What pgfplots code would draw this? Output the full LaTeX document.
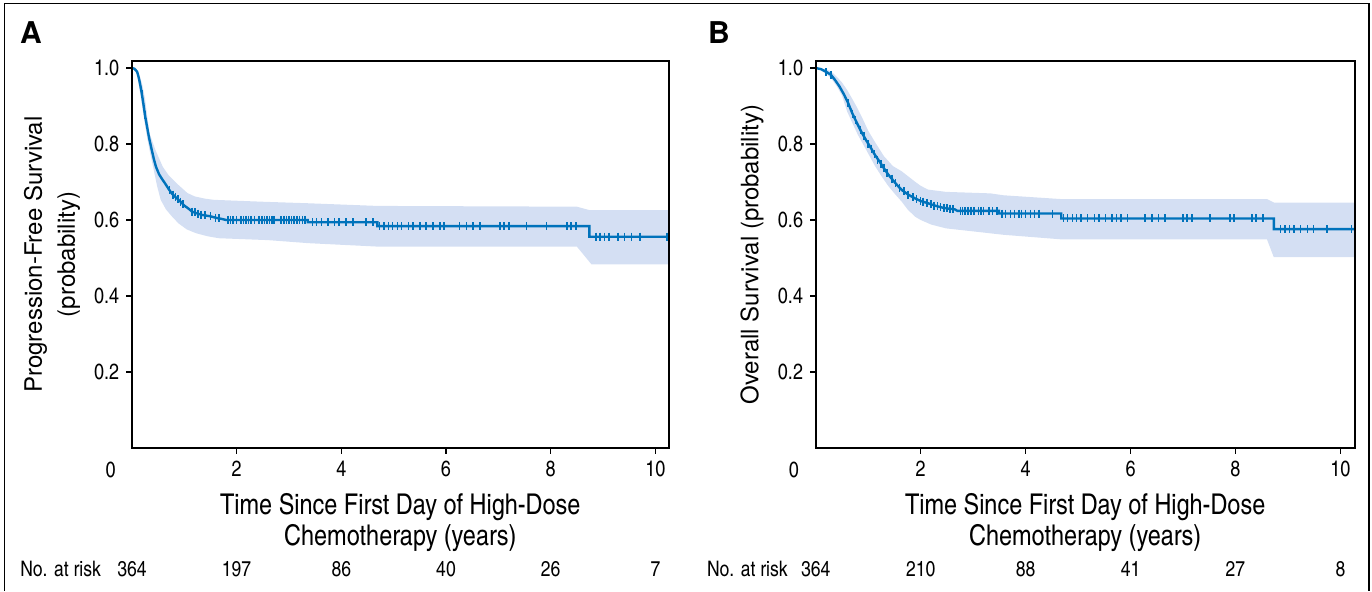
\documentclass[border=0pt]{standalone}
\usepackage{fontspec}
\setmainfont{texgyreheroscn-regular.otf}[BoldFont=texgyreheroscn-bold.otf]
\newfontfamily\widesans{texgyreheros-regular.otf}[BoldFont=texgyreheros-bold.otf]
\usepackage{pgfplots}
\pgfplotsset{compat=1.18}
\definecolor{kmblue}{RGB}{0,114,187}
\definecolor{kmband}{RGB}{212,223,243}

\tikzset{risk/.style={font=\fontsize{10.7}{12}\selectfont}}
\pgfplotsset{
  km/.style={
    scale only axis, height=193.5pt,
    xmin=0, ymin=0, ymax=1.0184,
    axis on top, clip=false,
    axis line style={line width=1pt},
    tick align=outside, xtick pos=bottom, ytick pos=left,
    major tick length=2.8pt,
    tick style={black, line width=0.7pt},
    xtick={2,4,6,8,10}, ytick={0.2,0.4,0.6,0.8,1.0},
    /pgf/number format/assume math mode=true,
    yticklabel style={/pgf/number format/fixed, /pgf/number format/fixed zerofill, /pgf/number format/precision=1},
    ticklabel style={font=\fontsize{11}{13}\selectfont},
    xlabel style={align=center, font=\fontsize{14.3}{15.6}\selectfont, at={(axis description cs:0.5,-0.1922)}, anchor=center},
    ylabel style={align=center, font=\widesans\fontsize{12}{16.5}\selectfont, anchor=center},
  },
  kmline/.style={kmblue, line width=1.2pt},
  kmcens/.style={kmblue, only marks, mark=|, mark size=2pt, mark options={line width=0.8pt}},
}

\begin{document}
\begin{tikzpicture}
\path (0pt,0pt) rectangle (686pt,295.5pt);
\draw[line width=0.7pt] (2.25pt,0pt) -- (2.25pt,293.85pt) -- (684.5pt,293.85pt) -- (684.5pt,0pt);

\node[font=\widesans\bfseries\fontsize{15}{15}\selectfont] at (15.5pt,279pt) {A};
\node[font=\widesans\bfseries\fontsize{15}{15}\selectfont] at (359.5pt,279pt) {B};

% ---------------- A: progression-free survival
\begin{axis}[km, at={(65.95pt,71.5pt)}, anchor=south west, width=268.4pt, xmax=10.254,
  xlabel={Time Since First Day of High-Dose\\Chemotherapy (years)},
  ylabel={Progression-Free Survival\\(probability)},
  ylabel style={at={(axis description cs:-0.1489,0.5)}}]

% confidence band: upper edge left to right, then lower edge right to left
\addplot[fill=kmband, draw=none, forget plot] coordinates {
 (0,1.0) (0.1,0.995) (0.16,0.975) (0.2,0.955) (0.25,0.92) (0.3,0.865) (0.34,0.827)
 (0.45,0.784) (0.59,0.74) (0.7,0.718) (0.85,0.697) (1.06,0.671) (1.2,0.662)
 (1.4,0.656) (1.57,0.653) (2.5,0.648) (3.37,0.644) (4.69,0.637) (8.5,0.635)
 (8.74,0.626) (10.254,0.626)
 (10.254,0.483) (8.78,0.483) (8.5,0.53) (4.69,0.53) (3.37,0.539) (2.6,0.547)
 (1.66,0.552) (1.45,0.557) (1.23,0.565) (1.05,0.575) (0.89,0.591) (0.76,0.61)
 (0.65,0.628) (0.55,0.653) (0.48,0.69) (0.405,0.74) (0.35,0.775) (0.3,0.81)
 (0.25,0.85) (0.19,0.905) (0.15,0.94) (0.1,0.985) (0,1.0)
};

\addplot[kmline] coordinates {
 (0,1.0) (0.05,0.998) (0.1,0.99) (0.13,0.975) (0.16,0.955) (0.19,0.932) (0.22,0.905)
 (0.25,0.876) (0.29,0.845) (0.33,0.815) (0.38,0.784) (0.42,0.76) (0.46,0.74)
 (0.52,0.72) (0.58,0.707) (0.63,0.697) (0.7,0.682) (0.76,0.67) (0.85,0.658)
 (0.93,0.648) (1.0,0.638) (1.08,0.63) (1.15,0.622) (1.25,0.617) (1.35,0.613)
 (1.49,0.61) (1.6,0.606) (1.74,0.602) (1.8,0.6) (3.36,0.6) (3.36,0.594)
 (4.69,0.594) (4.69,0.584) (8.74,0.584) (8.74,0.556) (10.25,0.556)
};
\addplot[kmcens] coordinates {
 (0.19,0.932) (0.25,0.876)
 (0.72,0.678) (0.78,0.667) (0.83,0.661) (0.88,0.654) (0.93,0.648) (0.98,0.641)
 (1.15,0.622) (1.2,0.62) (1.26,0.617) (1.32,0.614) (1.4,0.612) (1.5,0.61) (1.6,0.606) (1.66,0.604)
 (1.83,0.6) (1.88,0.6) (1.93,0.6) (2.0,0.6) (2.08,0.6) (2.13,0.6) (2.18,0.6) (2.23,0.6)
 (2.28,0.6) (2.34,0.6) (2.43,0.6) (2.48,0.6) (2.53,0.6) (2.58,0.6) (2.63,0.6) (2.68,0.6)
 (2.72,0.6) (2.85,0.6) (2.9,0.6) (2.95,0.6) (3.0,0.6) (3.05,0.6) (3.1,0.6) (3.15,0.6)
 (3.2,0.6) (3.26,0.6) (3.31,0.6)
 (3.45,0.594) (3.53,0.594) (3.62,0.594) (3.75,0.594) (3.87,0.594) (3.96,0.594)
 (4.09,0.594) (4.22,0.594) (4.47,0.594) (4.6,0.594)
 (4.73,0.584) (4.81,0.584) (4.9,0.584) (4.98,0.584) (5.07,0.584) (5.15,0.584)
 (5.28,0.584) (5.37,0.584) (5.5,0.584) (5.62,0.584) (5.75,0.584) (5.88,0.584)
 (5.96,0.584) (6.26,0.584) (6.39,0.584) (6.52,0.584) (6.65,0.584) (7.03,0.584)
 (7.11,0.584) (7.2,0.584) (7.54,0.584) (7.92,0.584) (8.31,0.584) (8.39,0.584) (8.48,0.584)
 (8.86,0.556) (8.94,0.556) (9.03,0.556) (9.11,0.556) (9.29,0.556) (9.41,0.556)
 (9.54,0.556) (9.71,0.556) (10.22,0.556)
};

\node[font=\fontsize{11}{13}\selectfont] at (axis cs:-0.405,-0.058) {0};
\node[risk, anchor=east] at (axis cs:-0.457,-0.319) {No. at risk};
\node[risk] at (axis cs:0,-0.319) {364};
\node[risk] at (axis cs:2,-0.319) {197};
\node[risk] at (axis cs:4,-0.319) {86};
\node[risk] at (axis cs:6,-0.319) {40};
\node[risk] at (axis cs:8,-0.319) {26};
\node[risk] at (axis cs:10,-0.319) {7};
\end{axis}

% ---------------- B: overall survival
\begin{axis}[km, at={(407.85pt,71.5pt)}, anchor=south west, width=269.45pt, xmax=10.27,
  xlabel={Time Since First Day of High-Dose\\Chemotherapy (years)},
  ylabel={Overall Survival (probability)},
  ylabel style={at={(axis description cs:-0.118,0.5)}}]

\addplot[fill=kmband, draw=none, forget plot] coordinates {
 (0,1.0) (0.2,0.997) (0.3,0.99) (0.4,0.977) (0.5,0.962) (0.6,0.942) (0.7,0.918)
 (0.8,0.893) (0.9,0.865) (1.0,0.835) (1.13,0.805) (1.3,0.768) (1.47,0.742)
 (1.64,0.728) (1.77,0.714) (1.9,0.7) (2.0,0.69) (2.14,0.68) (2.48,0.674)
 (3.33,0.67) (3.58,0.665) (4.68,0.655) (8.6,0.655) (8.73,0.646) (10.27,0.646)
 (10.27,0.502) (8.73,0.502) (8.6,0.549) (4.68,0.549) (3.58,0.561) (3.0,0.57)
 (2.48,0.578) (2.2,0.588) (2.0,0.6) (1.89,0.609) (1.75,0.628) (1.64,0.648)
 (1.5,0.67) (1.38,0.69) (1.25,0.716) (1.13,0.742) (1.0,0.775) (0.9,0.8)
 (0.8,0.825) (0.7,0.855) (0.6,0.885) (0.5,0.928) (0.4,0.952) (0.3,0.972)
 (0.2,0.985) (0,1.0)
};

\addplot[kmline] coordinates {
 (0,1.0) (0.1,0.997) (0.2,0.99) (0.29,0.982) (0.37,0.968) (0.455,0.951) (0.54,0.93)
 (0.62,0.907) (0.7,0.88) (0.79,0.854) (0.87,0.832) (0.96,0.81) (1.05,0.79)
 (1.13,0.771) (1.22,0.753) (1.3,0.736) (1.38,0.72) (1.47,0.705) (1.55,0.692)
 (1.64,0.679) (1.76,0.667) (1.89,0.657) (2.0,0.65) (2.14,0.644) (2.27,0.638)
 (2.4,0.633) (2.52,0.63) (2.65,0.628) (2.7,0.624) (3.49,0.624) (3.49,0.617)
 (4.68,0.617) (4.68,0.604) (8.73,0.604) (8.73,0.576) (10.27,0.576)
};
\addplot[kmcens] coordinates {
 (0.2,0.99) (0.29,0.982)
 (0.62,0.907) (0.7,0.88) (0.76,0.863) (0.85,0.838) (0.92,0.82) (1.0,0.799)
 (1.06,0.788) (1.12,0.773) (1.18,0.759) (1.25,0.747) (1.3,0.736) (1.36,0.724)
 (1.45,0.709) (1.52,0.697) (1.6,0.685) (1.68,0.675) (1.76,0.667) (1.85,0.66)
 (1.92,0.655) (2.0,0.65) (2.05,0.648) (2.12,0.645) (2.2,0.641) (2.26,0.638)
 (2.32,0.636) (2.38,0.634) (2.45,0.632) (2.5,0.631) (2.56,0.63) (2.62,0.629)
 (2.76,0.624) (2.8,0.624) (2.85,0.624) (2.9,0.624) (2.96,0.624) (3.02,0.624)
 (3.1,0.624) (3.15,0.624) (3.2,0.624) (3.3,0.624) (3.37,0.624) (3.45,0.624)
 (3.55,0.617) (3.62,0.617) (3.71,0.617) (3.79,0.617) (3.87,0.617) (3.92,0.617)
 (4.0,0.617) (4.09,0.617) (4.17,0.617) (4.26,0.617) (4.51,0.617)
 (4.72,0.604) (4.8,0.604) (4.89,0.604) (4.97,0.604) (5.06,0.604) (5.18,0.604)
 (5.31,0.604) (5.4,0.604) (5.52,0.604) (5.65,0.604) (5.73,0.604) (5.82,0.604)
 (5.94,0.604) (6.28,0.604) (6.41,0.604) (6.53,0.604) (6.66,0.604) (7.0,0.604)
 (7.08,0.604) (7.17,0.604) (7.51,0.604) (7.89,0.604) (7.97,0.604) (8.31,0.604)
 (8.39,0.604) (8.52,0.604)
 (8.86,0.576) (8.94,0.576) (9.03,0.576) (9.11,0.576) (9.24,0.576) (9.37,0.576)
 (9.49,0.576) (9.74,0.576) (10.21,0.576)
};

\node[font=\fontsize{11}{13}\selectfont] at (axis cs:-0.414,-0.058) {0};
\node[risk, anchor=east] at (axis cs:-0.40,-0.319) {No. at risk};
\node[risk] at (axis cs:0,-0.319) {364};
\node[risk] at (axis cs:2,-0.319) {210};
\node[risk] at (axis cs:4,-0.319) {88};
\node[risk] at (axis cs:6,-0.319) {41};
\node[risk] at (axis cs:8,-0.319) {27};
\node[risk] at (axis cs:10,-0.319) {8};
\end{axis}
\end{tikzpicture}
\end{document}
